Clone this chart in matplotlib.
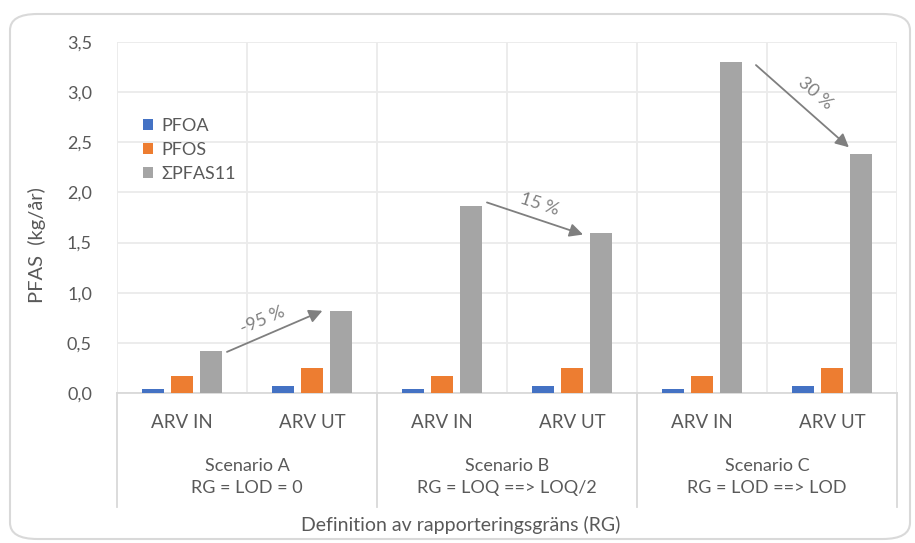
import numpy as np
import matplotlib.pyplot as plt
from matplotlib.patches import FancyBboxPatch

plt.rcParams['font.family'] = ['Lato', 'DejaVu Sans']

# data (kg/år)
categories = ['ARV IN', 'ARV UT', 'ARV IN', 'ARV UT', 'ARV IN', 'ARV UT']
scenarios = ['Scenario A\nRG = LOD = 0',
             'Scenario B\nRG = LOQ ==> LOQ/2',
             'Scenario C\nRG = LOD ==> LOD']
series = ['PFOA', 'PFOS', 'ΣPFAS11']
pfoa = [0.04, 0.065, 0.04, 0.065, 0.04, 0.065]
pfos = [0.17, 0.25, 0.17, 0.25, 0.17, 0.25]
pfas11 = [0.42, 0.82, 1.86, 1.60, 3.30, 2.38]
change_labels = ['-95 %', '15 %', '30 %']

colors = ['#4472C4', '#ED7D31', '#A5A5A5']
txt = '#595959'
line_col = '#D9D9D9'

fig = plt.figure(figsize=(9.15, 5.43), dpi=100)
W, H = 915, 543
ax = fig.add_axes([117 / W, (H - 393) / H, 780 / W, 351 / H])

x = np.arange(len(categories))
bw = 0.17
off = 0.22
for k, vals in enumerate([pfoa, pfos, pfas11]):
    ax.bar(x + (k - 1) * off, vals, bw, color=colors[k], label=series[k], zorder=3)

ax.set_xlim(-0.5, 5.5)
ax.set_ylim(0, 3.5)
yt = np.arange(0, 3.51, 0.5)
ax.set_yticks(yt)
ax.set_yticklabels([f'{v:.1f}'.replace('.', ',') for v in yt], color=txt, fontsize=13)
ax.tick_params(axis='y', length=0, pad=18)
ax.set_xticks([])
ax.set_xticks(np.arange(-0.5, 5.6, 1), minor=True)
ax.tick_params(axis='x', which='minor', length=0)
ax.grid(True, which='major', axis='y', color='#EBEBEB', lw=1.3, zorder=0)
ax.grid(True, which='minor', axis='x', color='#EBEBEB', lw=1.3, zorder=0)
for s in ['top', 'right', 'left']:
    ax.spines[s].set_visible(False)
ax.spines['bottom'].set_color(line_col)
ax.spines['bottom'].set_linewidth(1.3)

# multi-level category axis below the plot
tr = ax.get_xaxis_transform()
for xb in [-0.5, 1.5, 3.5, 5.5]:
    ax.plot([xb, xb], [0, -0.325], color=line_col, lw=1.3, transform=tr, clip_on=False)
for i, c in enumerate(categories):
    ax.text(i, -0.085, c, transform=tr, ha='center', va='center', fontsize=13.5, color=txt)
for j, s in enumerate(scenarios):
    ax.text(2 * j + 0.5, -0.24, s, transform=tr, ha='center', va='center',
            fontsize=13, color=txt, linespacing=1.45)
fig.text(461 / W, 1 - 525 / H, 'Definition av rapporteringsgräns (RG)',
         ha='center', va='center', fontsize=14, color=txt)

fig.text(37 / W, 1 - 245 / H, 'PFAS  (kg/år)', rotation=90, ha='center', va='center',
         fontsize=14.5, color=txt)

# change arrows between ARV IN and ARV UT
arrows = [((0.346, 0.41), (1.08, 0.82)),
          ((2.346, 1.90), (3.085, 1.58)),
          ((4.415, 3.27), (5.13, 2.45))]
label_pos = [(0.617, 0.73, 23), (2.75, 1.88, -18), (4.87, 2.99, -41)]
for (p0, p1), (tx, ty, rot), lab in zip(arrows, label_pos, change_labels):
    ax.annotate('', xy=p1, xytext=p0,
                arrowprops=dict(arrowstyle='-|>', color='#7F7F7F', lw=1.3,
                                mutation_scale=20, shrinkA=0, shrinkB=0), zorder=4)
    ax.text(tx, ty, lab, rotation=rot, ha='center', va='center', fontsize=13,
            color='#7F7F7F', rotation_mode='anchor')

leg = ax.legend(loc='upper left', bbox_to_anchor=(26 / 780, (393 - 118) / 351),
                frameon=False, fontsize=13, handlelength=0.55, handleheight=0.55,
                handletextpad=0.45, labelspacing=0.45, borderpad=0, borderaxespad=0)
for t in leg.get_texts():
    t.set_color(txt)

# rounded chart border
fig.patches.append(FancyBboxPatch((10 / W, 4 / H), 900 / W, 525 / H,
                                  boxstyle='round,pad=0,rounding_size=0.03',
                                  transform=fig.transFigure, fill=False,
                                  edgecolor=line_col, lw=1.5))

fig.savefig('out.png', dpi=100)
